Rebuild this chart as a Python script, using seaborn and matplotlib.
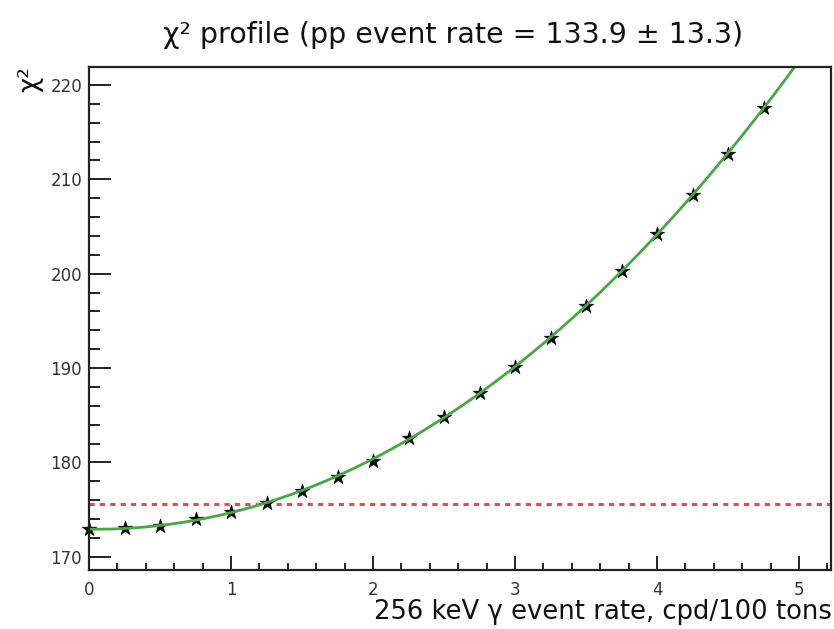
import numpy as np
import pandas as pd
import matplotlib
matplotlib.use("Agg")
import matplotlib.pyplot as plt
import seaborn as sns
from matplotlib.ticker import MultipleLocator

# Scanned 256 keV gamma rate (cpd/100 tons) and the profiled chi-square
gamma_rate = [0.0, 0.25, 0.5, 0.75, 1.0, 1.25, 1.5, 1.75, 2.0, 2.25,
              2.5, 2.75, 3.0, 3.25, 3.5, 3.75, 4.0, 4.25, 4.5, 4.75]
chi2_values = [172.9, 173.0, 173.3, 174.0, 174.7, 175.7, 177.0, 178.5, 180.2, 182.6,
               184.8, 187.4, 190.1, 193.2, 196.6, 200.3, 204.2, 208.3, 212.7, 217.6]
threshold = 175.6          # chi2_min + 2.71 (90% C.L.)
x_ticks = [0, 1, 2, 3, 4, 5]
y_ticks = [170, 180, 190, 200, 210, 220]
x_range = (0.0, 5.225)
y_range = (168.6, 221.9)

title_text = "χ² profile (pp event rate = 133.9 ± 13.3)"
xlabel_text = "256 keV γ event rate, cpd/100 tons"
ylabel_text = "χ²"

sns.set_style("ticks")
plt.rcParams["font.family"] = ["DejaVu Sans"]

df = pd.DataFrame({"rate": gamma_rate, "chi2": chi2_values})

# Polynomial fit to the scan, drawn as a smooth curve
coef = np.polyfit(df["rate"], df["chi2"], 4)
fit_x = np.linspace(x_range[0], x_range[1], 400)
fit_df = pd.DataFrame({"rate": fit_x, "chi2": np.polyval(coef, fit_x)})

fig = plt.figure(figsize=(8.34, 6.29), dpi=100)
ax = fig.add_axes([89 / 834, 1 - 570 / 629, (831 - 89) / 834, (570 - 67) / 629])

sns.scatterplot(data=df, x="rate", y="chi2", marker="*", s=120, color="black",
                edgecolor="black", linewidth=0.4, ax=ax, zorder=3, legend=False,
                clip_on=False)
sns.lineplot(data=fit_df, x="rate", y="chi2", color="#45a842", linewidth=2.0,
             ax=ax, zorder=4, legend=False)
ax.axhline(threshold, color="#f04848", linewidth=2.2, linestyle=(0, (1.7, 1.7)),
           zorder=2)

ax.set_xlim(*x_range)
ax.set_ylim(*y_range)
ax.set_xticks(x_ticks)
ax.set_yticks(y_ticks)
ax.xaxis.set_minor_locator(MultipleLocator(0.2))
ax.yaxis.set_minor_locator(MultipleLocator(2))
ax.set_xlabel("")
ax.set_ylabel("")

for side in ["left", "bottom", "right", "top"]:
    ax.spines[side].set_visible(True)
    ax.spines[side].set_linewidth(1.6)
    ax.spines[side].set_color("#222222")
    ax.spines[side].set_zorder(5)

ax.tick_params(axis="y", which="major", direction="in", length=16, width=1.4,
               color="#222222", labelsize=12, labelcolor="#333333", pad=5)
ax.tick_params(axis="y", which="minor", direction="in", length=8, width=1.4,
               color="#222222")
ax.tick_params(axis="x", which="major", direction="in", length=10, width=1.4,
               color="#222222", labelsize=12, labelcolor="#333333", pad=8)
ax.tick_params(axis="x", which="minor", direction="in", length=5, width=1.4,
               color="#222222")

fig.text(0.543, 1 - 35 / 629, title_text, ha="center", va="center", fontsize=20.5,
         color="#111111")
fig.text(0.997, 1 - 612 / 629, xlabel_text, ha="right", va="center", fontsize=18.6,
         color="#111111")
fig.text(30 / 834, 1 - 66 / 629, ylabel_text, ha="center", va="top",
         rotation=90, fontsize=19, color="#111111")

fig.savefig("out.png", dpi=100)
